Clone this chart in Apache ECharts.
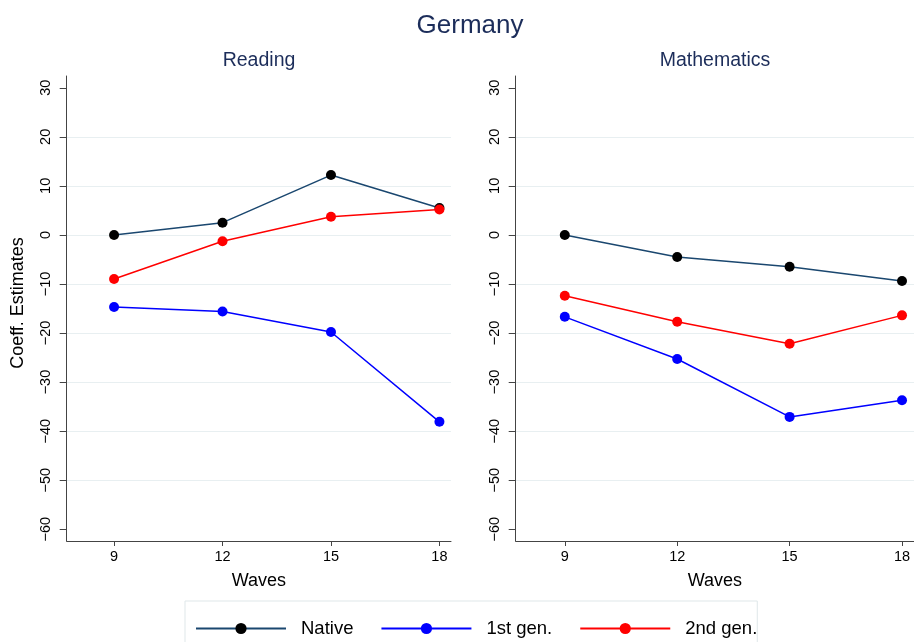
<!DOCTYPE html>
<html>
<head>
<meta charset="utf-8">
<script src="https://cdn.jsdelivr.net/npm/echarts@6/dist/echarts.min.js"></script>
<style>
  html, body { margin: 0; padding: 0; background: #ffffff; }
  #chart { width: 914px; height: 642px; }
</style>
</head>
<body>
<div id="chart"></div>
<script>
// Survey waves on the x axis and the labelled y ticks
const waves = [9, 12, 15, 18];
const yTicks = [-60, -50, -40, -30, -20, -10, 0, 10, 20, 30];

// Coefficient estimates, reading
const readingNative = [0.0, 2.5, 12.2, 5.5];
const readingFirstGen = [-14.7, -15.6, -19.8, -38.1];
const readingSecondGen = [-9.0, -1.3, 3.7, 5.2];

// Coefficient estimates, mathematics
const mathNative = [0.0, -4.5, -6.5, -9.4];
const mathFirstGen = [-16.7, -25.3, -37.1, -33.7];
const mathSecondGen = [-12.4, -17.7, -22.2, -16.4];

const seriesNames = ['Native', '1st gen.', '2nd gen.'];
const panelTitles = ['Reading', 'Mathematics'];
const chartTitle = 'Germany';
const xAxisTitle = 'Waves';
const yAxisTitle = 'Coeff. Estimates';

const FONT = '"Liberation Sans", Arial, Helvetica, sans-serif';
const NAVY = '#1c2d5a';
const AXIS = '#444444';
const GRID = '#e8eff1';

const styles = [
  { line: '#1a476f', dot: '#000000' },
  { line: '#0000ff', dot: '#0000ff' },
  { line: '#ff0000', dot: '#ff0000' }
];

const minus = v => String(v).replace('-', '\u2212');

function xAxis(gridIndex) {
  return {
    type: 'value', gridIndex: gridIndex,
    min: 7.69, max: 18.32,
    name: xAxisTitle, nameLocation: 'middle', nameGap: 31,
    nameTextStyle: { fontFamily: FONT, fontSize: 18, color: '#000' },
    axisLine: { show: true, onZero: false, lineStyle: { color: AXIS, width: 1 } },
    axisTick: { show: true, length: 5, customValues: waves, lineStyle: { color: AXIS } },
    axisLabel: { customValues: waves, fontFamily: FONT, fontSize: 14.5, color: '#000', margin: 8 },
    splitLine: { show: false }
  };
}

function yAxis(gridIndex) {
  return {
    type: 'value', gridIndex: gridIndex,
    min: -62.4, max: 32.4, splitNumber: 9,
    axisLine: { show: true, lineStyle: { color: AXIS, width: 1 } },
    axisTick: { show: true, length: 7, customValues: yTicks, lineStyle: { color: AXIS } },
    axisLabel: {
      customValues: yTicks, rotate: 90, margin: 13,
      fontFamily: FONT, fontSize: 14.5, color: '#000',
      formatter: minus
    },
    splitLine: { show: true, showMinLine: false, showMaxLine: false, lineStyle: { color: GRID, width: 1.2 } }
  };
}

function lineSeries(name, values, idx, gridIndex) {
  return {
    type: 'line', name: name,
    xAxisIndex: gridIndex, yAxisIndex: gridIndex,
    data: waves.map((w, i) => [w, values[i]]),
    symbol: 'circle', symbolSize: 10,
    lineStyle: { color: styles[idx].line, width: 1.5 },
    itemStyle: { color: styles[idx].dot, borderWidth: 0 },
    emphasis: { disabled: true },
    z: 2 + idx
  };
}

const panels = [
  [readingNative, readingFirstGen, readingSecondGen],
  [mathNative, mathFirstGen, mathSecondGen]
];

const series = [];
panels.forEach((set, g) => set.forEach((vals, k) => series.push(lineSeries(seriesNames[k], vals, k, g))));

const chart = echarts.init(document.getElementById('chart'), null, { renderer: 'canvas' });
chart.setOption({
  animation: false,
  backgroundColor: '#ffffff',
  textStyle: { fontFamily: FONT },
  grid: [
    { left: 66.7, top: 76, width: 384.3, height: 465 },
    { left: 515.7, top: 76, width: 399, height: 465 }
  ],
  xAxis: [xAxis(0), xAxis(1)],
  yAxis: [yAxis(0), yAxis(1)],
  legend: {
    data: seriesNames,
    left: 185, top: 601,
    orient: 'horizontal',
    padding: [18, 0, 30, 10],
    itemWidth: 90, itemHeight: 14, itemGap: 27,
    backgroundColor: '#ffffff',
    borderColor: '#dfe7e9', borderWidth: 1,
    textStyle: { fontFamily: FONT, fontSize: 18.5, color: '#000', padding: [0, 0, 0, 10] },
    selectedMode: false
  },
  graphic: [
    { type: 'text', x: 470, y: 26, style: { text: chartTitle, fill: NAVY, font: '26px ' + FONT, textAlign: 'center', textVerticalAlign: 'middle' } },
    { type: 'text', x: 259, y: 61, style: { text: panelTitles[0], fill: NAVY, font: '19.5px ' + FONT, textAlign: 'center', textVerticalAlign: 'middle' } },
    { type: 'text', x: 715, y: 61, style: { text: panelTitles[1], fill: NAVY, font: '19.5px ' + FONT, textAlign: 'center', textVerticalAlign: 'middle' } },
    { type: 'text', x: 18, y: 303, rotation: Math.PI / 2, style: { text: yAxisTitle, fill: '#000', font: '18px ' + FONT, textAlign: 'center', textVerticalAlign: 'middle' } }
  ],
  series: series
});
</script>
</body>
</html>
